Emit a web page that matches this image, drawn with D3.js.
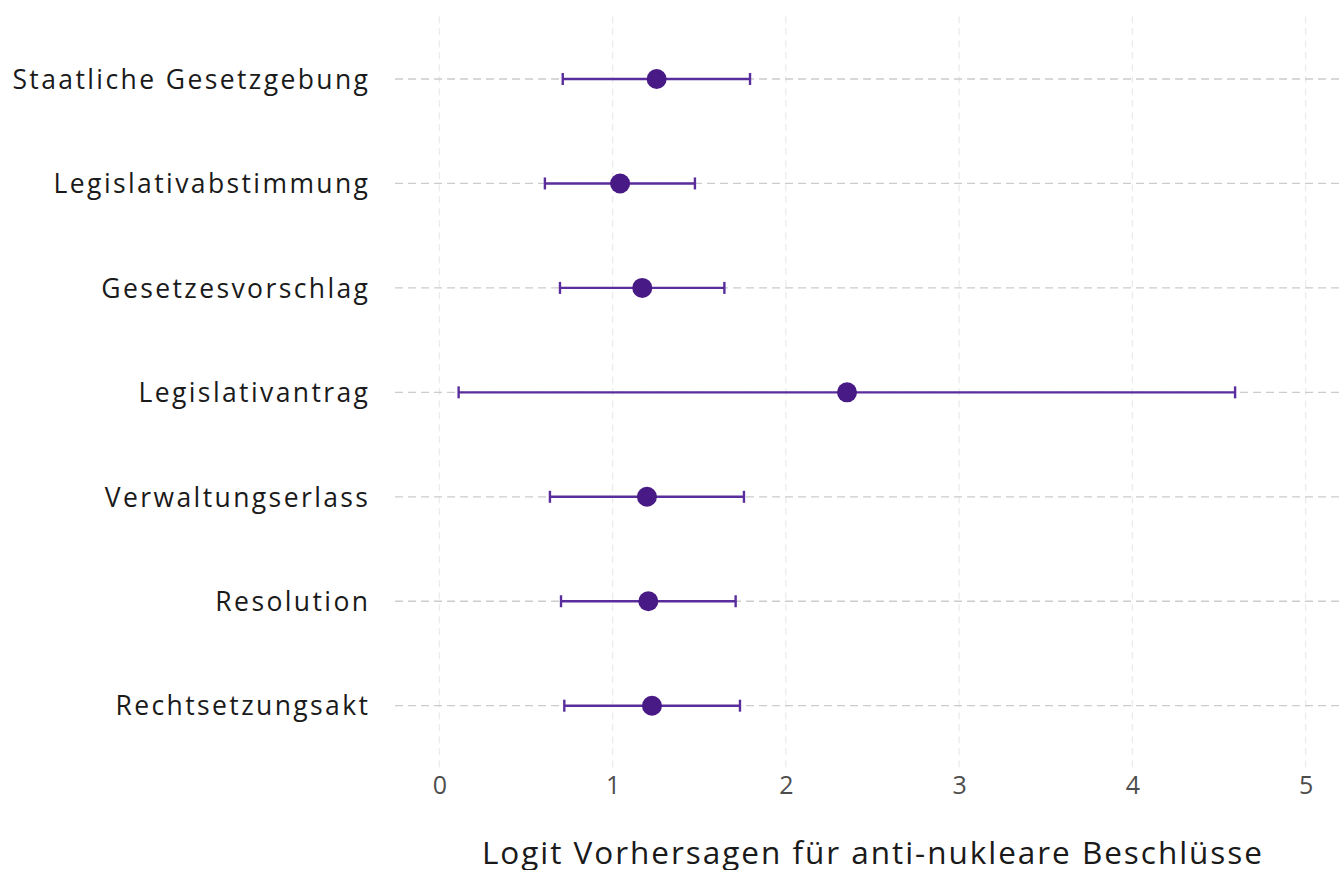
<!DOCTYPE html>
<html>
<head>
<meta charset="utf-8">
<script src="https://cdn.jsdelivr.net/npm/d3@7"></script>
<style>
  html, body { margin: 0; padding: 0; background: #ffffff; }
  svg { display: block; }
</style>
</head>
<body>
<div id="chart"></div>
<script>
const categories = [
  "Staatliche Gesetzgebung",
  "Legislativabstimmung",
  "Gesetzesvorschlag",
  "Legislativantrag",
  "Verwaltungserlass",
  "Resolution",
  "Rechtsetzungsakt"
];
const estimates = [1.254, 1.043, 1.171, 2.353, 1.198, 1.206, 1.227];
const lowerCI   = [0.712, 0.609, 0.696, 0.111, 0.638, 0.702, 0.721];
const upperCI   = [1.793, 1.475, 1.645, 4.593, 1.758, 1.710, 1.735];
const xTicks = [0, 1, 2, 3, 4, 5];
const xTitle = "Logit Vorhersagen für anti-nukleare Beschlüsse";

const W = 1339, H = 870;
const svg = d3.select("#chart").append("svg").attr("width", W).attr("height", H);

const x = d3.scaleLinear().domain([0, 5]).range([439.4, 1305.6]);
const panelLeft = x(-0.256), panelRight = W;
const panelTop = 16.3, panelBottom = 768.4;
const y = d3.scalePoint().domain(categories).range([79, 705.7]);

const data = categories.map((c, i) => ({ cat: c, est: estimates[i], lo: lowerCI[i], hi: upperCI[i] }));

// vertical grid
svg.append("g").selectAll("line").data(xTicks).join("line")
  .attr("x1", d => x(d)).attr("x2", d => x(d))
  .attr("y1", panelTop).attr("y2", panelBottom)
  .attr("stroke", "#ebebeb").attr("stroke-width", 1.3)
  .attr("stroke-dasharray", "7,5");

// horizontal grid
svg.append("g").selectAll("line").data(categories).join("line")
  .attr("x1", panelLeft).attr("x2", panelRight)
  .attr("y1", d => y(d)).attr("y2", d => y(d))
  .attr("stroke", "#cccccc").attr("stroke-width", 1.3)
  .attr("stroke-dasharray", "8,5");

// error bars
const eb = svg.append("g").selectAll("g").data(data).join("g");
const lineColor = "#5a2d9c", pointColor = "#481a85";
eb.append("line")
  .attr("x1", d => x(d.lo)).attr("x2", d => x(d.hi))
  .attr("y1", d => y(d.cat)).attr("y2", d => y(d.cat))
  .attr("stroke", lineColor).attr("stroke-width", 2.4);
eb.append("line")
  .attr("x1", d => x(d.lo)).attr("x2", d => x(d.lo))
  .attr("y1", d => y(d.cat) - 6).attr("y2", d => y(d.cat) + 6)
  .attr("stroke", lineColor).attr("stroke-width", 2.4);
eb.append("line")
  .attr("x1", d => x(d.hi)).attr("x2", d => x(d.hi))
  .attr("y1", d => y(d.cat) - 6).attr("y2", d => y(d.cat) + 6)
  .attr("stroke", lineColor).attr("stroke-width", 2.4);
eb.append("circle")
  .attr("cx", d => x(d.est)).attr("cy", d => y(d.cat)).attr("r", 10)
  .attr("fill", pointColor);

// y axis labels
const yAxis = d3.axisLeft(y).tickSize(0).tickPadding(0);
const yg = svg.append("g").call(yAxis);
yg.select(".domain").remove();
const yTexts = yg.selectAll("text")
  .attr("font-family", "'Open Sans', sans-serif")
  .attr("font-size", 26.5)
  .attr("fill", "#1a1a1a")
  .attr("dy", "0.35em");
(function () {
  const longest = yTexts.nodes()[0];
  const w = longest.getComputedTextLength();
  const n = categories[0].length;
  const ls = (358 - w) / n;
  yTexts.attr("letter-spacing", ls + "px");
  yg.attr("transform", `translate(${368 + ls},0)`);
})();

// x axis
const xAxis = d3.axisBottom(x).tickValues(xTicks).tickSize(0).tickPadding(0).tickFormat(d3.format("d"));
const xg = svg.append("g").attr("transform", "translate(0,776)").call(xAxis);
xg.select(".domain").remove();
xg.selectAll("text")
  .attr("font-family", "'Open Sans', sans-serif")
  .attr("font-size", 25)
  .attr("fill", "#4d4d4d")
  .attr("dy", "0.72em");

// x title
const title = svg.append("text")
  .attr("x", 872).attr("y", 864)
  .attr("text-anchor", "middle")
  .attr("font-family", "'Open Sans', sans-serif")
  .attr("font-size", 31.5)
  .attr("fill", "#1a1a1a")
  .text(xTitle);
(function () {
  const w = title.node().getComputedTextLength();
  const ls = (782 - w) / xTitle.length;
  title.attr("letter-spacing", ls + "px").attr("x", 872 + ls / 2);
})();
</script>
</body>
</html>
